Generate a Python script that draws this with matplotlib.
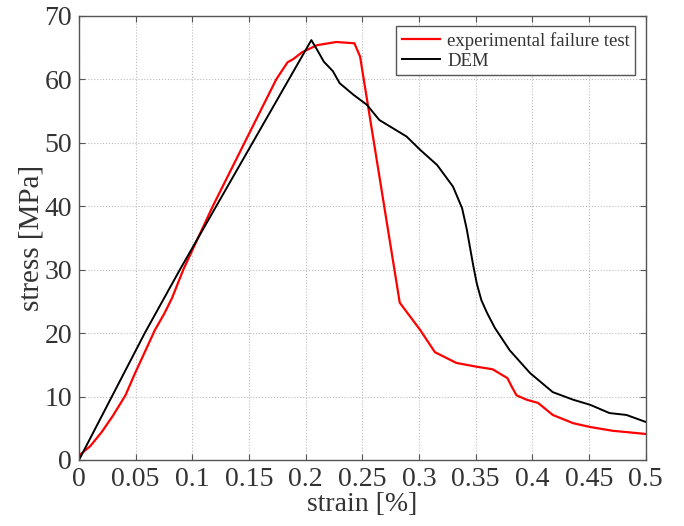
import matplotlib.pyplot as plt

# experimental failure test (strain %, stress MPa)
exp_strain = [0.0, 0.01, 0.02, 0.03, 0.041, 0.049, 0.058, 0.067, 0.075, 0.082, 0.092, 0.105,
              0.118, 0.132, 0.146, 0.160, 0.174, 0.184, 0.189, 0.197, 0.210, 0.227, 0.243,
              0.248, 0.283, 0.301, 0.314, 0.333, 0.351, 0.365, 0.378, 0.382, 0.386, 0.395,
              0.405, 0.418, 0.436, 0.451, 0.471, 0.483, 0.5]
exp_stress = [0.7, 2.2, 4.4, 7.0, 10.2, 13.5, 17.0, 20.5, 23.0, 25.5, 30.0, 35.0,
              40.0, 45.0, 50.0, 55.0, 60.0, 62.7, 63.2, 64.3, 65.4, 65.9, 65.7,
              63.6, 24.8, 20.5, 17.0, 15.3, 14.7, 14.3, 12.9, 11.5, 10.2, 9.5,
              9.0, 7.1, 5.8, 5.2, 4.6, 4.4, 4.1]

# DEM simulation
dem_strain = [0.0, 0.029, 0.058, 0.089, 0.205, 0.210, 0.216, 0.224, 0.230, 0.242, 0.254,
              0.265, 0.289, 0.301, 0.316, 0.330, 0.338, 0.342, 0.345, 0.348, 0.351, 0.355,
              0.360, 0.367, 0.380, 0.398, 0.418, 0.436, 0.451, 0.468, 0.483, 0.5]
dem_stress = [0.0, 10.0, 20.0, 30.0, 66.2, 64.7, 62.8, 61.3, 59.4, 57.6, 56.0,
              53.6, 51.0, 48.9, 46.5, 43.1, 39.7, 36.5, 33.5, 30.5, 27.8, 25.2,
              23.2, 20.8, 17.3, 13.7, 10.7, 9.5, 8.7, 7.4, 7.1, 6.0]

x_ticks = [0, 0.05, 0.1, 0.15, 0.2, 0.25, 0.3, 0.35, 0.4, 0.45, 0.5]
x_tick_labels = ["0", "0.05", "0.1", "0.15", "0.2", "0.25", "0.3", "0.35", "0.4", "0.45", "0.5"]
y_ticks = [0, 10, 20, 30, 40, 50, 60, 70]

plt.rcParams["font.family"] = ["Liberation Serif", "DejaVu Serif"]
TEXT_COLOR = "#333333"

fig = plt.figure(figsize=(6.84, 5.26), dpi=100)
ax = fig.add_axes([0.1155, 0.1255, 0.8285, 0.8441])

ax.plot(exp_strain, exp_stress, color="#ff0000", lw=1.6, label="experimental failure test")
ax.plot(dem_strain, dem_stress, color="black", lw=1.4, label="DEM")

ax.set_xlim(0, 0.5)
ax.set_ylim(0, 70)
ax.set_xticks(x_ticks)
ax.set_xticklabels(x_tick_labels)
ax.set_yticks(y_ticks)
ax.grid(True, linestyle=":", color="#bbbbbb", lw=0.8)

ax.tick_params(direction="in", top=True, right=True, labelsize=20,
               colors="#555555", labelcolor=TEXT_COLOR, length=4)
ax.tick_params(axis="x", pad=5)
ax.tick_params(axis="y", pad=5)
for spine in ax.spines.values():
    spine.set_color("#555555")
    spine.set_linewidth(1.0)

ax.set_xlabel("strain [%]", fontsize=20, color=TEXT_COLOR, labelpad=0)
ax.set_ylabel("stress [MPa]", fontsize=21, color=TEXT_COLOR, labelpad=0)

leg = ax.legend(loc="upper right", fontsize=13.5, fancybox=False, framealpha=1,
                edgecolor="#555555", handlelength=2.0, borderpad=0.3,
                labelspacing=0.15, handletextpad=0.4, borderaxespad=0.55)
for text in leg.get_texts():
    text.set_color(TEXT_COLOR)

plt.savefig("out.png", dpi=100)
plt.close()
